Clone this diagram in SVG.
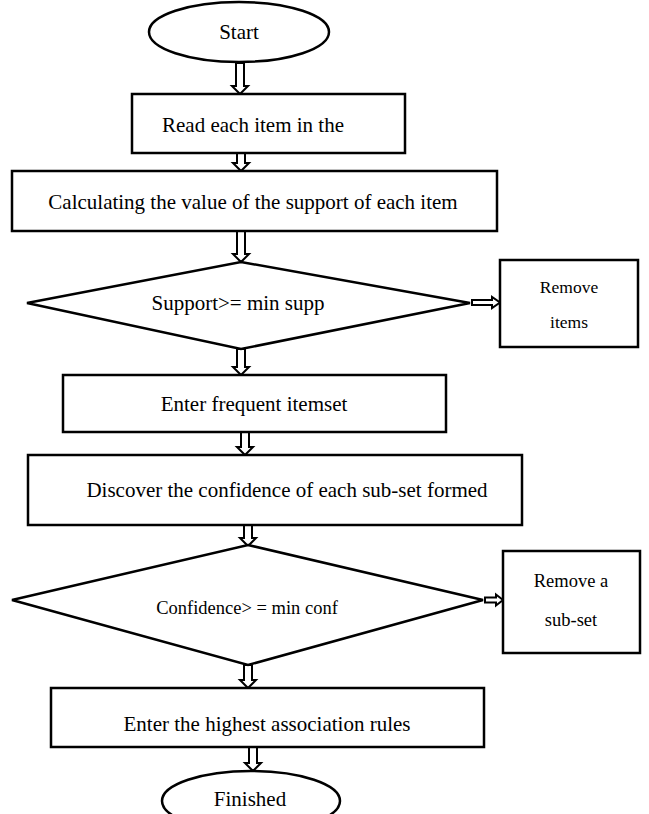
<svg xmlns="http://www.w3.org/2000/svg" width="649" height="814" viewBox="0 0 649 814">
<style>
.s{fill:#fff;stroke:#000;stroke-width:2.5}
.a{fill:#fff;stroke:#000;stroke-width:2;stroke-linejoin:miter}
text{font-family:"Liberation Serif","Times New Roman",serif;font-size:21px;fill:#000;text-anchor:middle}
.sm{font-size:18.5px}
.xs{font-size:17.5px}
</style>
<rect width="649" height="814" fill="#fff"/>
<g id="connectors">
<polygon class="a" points="236,63 244,63 244,86 248,86 240,94 232,86 236,86"/>
<polygon class="a" points="237,153 245,153 245,163 249,163 241,171 233,163 237,163"/>
<polygon class="a" points="237,231 245,231 245,254 249,254 241,262 233,254 237,254"/>
<polygon class="a" points="472,300 492,300 492,297 500,302.5 492,308 492,305 472,305"/>
<polygon class="a" points="237,349 245,349 245,367 249,367 241,375 233,367 237,367"/>
<polygon class="a" points="241,432 249,432 249,447 253,447 245,455 237,447 241,447"/>
<polygon class="a" points="244,525 252,525 252,538 256,538 248,546 240,538 244,538"/>
<polygon class="a" points="485,597.5 496,597.5 496,594.5 503,600 496,605.5 496,602.5 485,602.5"/>
<polygon class="a" points="244,665 252,665 252,680 256,680 248,688 240,680 244,680"/>
<polygon class="a" points="249,747 257,747 257,763 261,763 253,771 245,763 249,763"/>
</g>
<g id="start"><ellipse class="s" cx="239" cy="32" rx="90" ry="30"/><text x="239" y="39">Start</text></g>
<g id="read"><rect class="s" x="132" y="94" width="273" height="59"/><text x="253" y="132">Read each item in the</text></g>
<g id="calc"><rect class="s" x="12" y="171" width="485" height="60"/><text x="253" y="209">Calculating the value of the support of each item</text></g>
<g id="supp"><polygon class="s" points="241,262 470,303 241,349 27,303"/><text x="238" y="310">Support&gt;= min supp</text></g>
<g id="remove-items"><rect class="s" x="500" y="260" width="138" height="87"/><text class="xs" x="569" y="293">Remove</text><text class="xs" x="569" y="328">items</text></g>
<g id="frequent"><rect class="s" x="63" y="375" width="383" height="57"/><text x="254" y="411">Enter frequent itemset</text></g>
<g id="discover"><rect class="s" x="28" y="455" width="494" height="70"/><text x="287" y="497">Discover the confidence of each sub-set formed</text></g>
<g id="conf"><polygon class="s" points="248,545 483,600 248,665 12,600"/><text class="sm" x="247" y="614">Confidence&gt; = min conf</text></g>
<g id="remove-subset"><rect class="s" x="503" y="551" width="137" height="102"/><text class="sm" x="571" y="587">Remove a</text><text class="sm" x="571" y="626">sub-set</text></g>
<g id="rules"><rect class="s" x="51" y="688" width="433" height="59"/><text x="267" y="731">Enter the highest association rules</text></g>
<g id="finished"><ellipse class="s" cx="251" cy="801" rx="89" ry="30"/><text x="250" y="806">Finished</text></g>
</svg>
